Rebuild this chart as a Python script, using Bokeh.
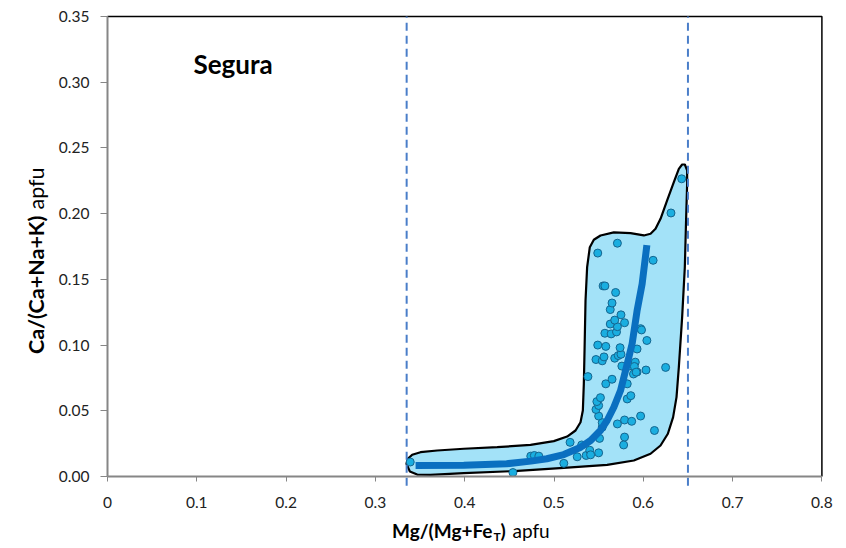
import math
from bokeh.plotting import figure
from bokeh.models import Label, FixedTicker, PrintfTickFormatter, Range1d
from bokeh.embed import file_html
from bokeh.resources import INLINE

# ---------------- data ----------------
pt_x = [0.339, 0.454, 0.474, 0.478, 0.483, 0.511, 0.518, 0.526, 0.531, 0.536,
        0.540, 0.541, 0.550, 0.551, 0.554, 0.554, 0.550, 0.547, 0.550, 0.548,
        0.552, 0.538, 0.558, 0.565, 0.571, 0.579, 0.587, 0.597, 0.579, 0.578,
        0.6125, 0.582, 0.586, 0.582, 0.589, 0.593, 0.591, 0.593, 0.603, 0.625,
        0.576, 0.584, 0.547, 0.554, 0.556, 0.568, 0.572, 0.575, 0.549, 0.558,
        0.574, 0.557, 0.564, 0.570, 0.571, 0.563, 0.568, 0.575, 0.579, 0.597,
        0.598, 0.604, 0.563, 0.565, 0.569, 0.555, 0.557, 0.549, 0.571, 0.611,
        0.631, 0.643, 0.590, 0.592]
pt_y = [0.011, 0.003, 0.0155, 0.016, 0.0155, 0.010, 0.026, 0.015, 0.024, 0.016,
        0.020, 0.0165, 0.018, 0.029, 0.0375, 0.041, 0.046, 0.051, 0.054, 0.057,
        0.060, 0.076, 0.0705, 0.074, 0.040, 0.043, 0.042, 0.046, 0.030, 0.024,
        0.035, 0.059, 0.0615, 0.0705, 0.078, 0.0795, 0.087, 0.097, 0.081, 0.083,
        0.084, 0.084, 0.089, 0.088, 0.091, 0.090, 0.092, 0.093, 0.100, 0.099,
        0.098, 0.109, 0.1085, 0.110, 0.114, 0.116, 0.119, 0.123, 0.117, 0.1125,
        0.1115, 0.1035, 0.127, 0.132, 0.140, 0.145, 0.145, 0.170, 0.1775, 0.1645,
        0.2005, 0.2265, 0.0837, 0.0794]

trend_x = [0.345, 0.399, 0.447, 0.474, 0.492, 0.511, 0.530, 0.541, 0.552, 0.5595,
           0.567, 0.5745, 0.582, 0.5875, 0.593, 0.5987, 0.604]
trend_y = [0.0084, 0.0086, 0.0097, 0.0117, 0.0135, 0.0167, 0.0223, 0.0274, 0.035, 0.0426,
           0.0527, 0.0654, 0.0857, 0.101, 0.126, 0.1466, 0.176]

env_x = [0.3348, 0.3363, 0.3412, 0.3505, 0.3692, 0.3990, 0.4364, 0.4737, 0.4998, 0.5147,
         0.5241, 0.5297, 0.5323, 0.5334, 0.5342, 0.5353, 0.5371, 0.5401, 0.5446, 0.5521,
         0.5670, 0.5857, 0.6006, 0.6081, 0.6137, 0.6193, 0.6267, 0.6342, 0.6398, 0.6435,
         0.6465, 0.6491, 0.6491, 0.6480, 0.6465, 0.6435, 0.6398, 0.6372, 0.6334, 0.6275,
         0.6193, 0.6081, 0.5894, 0.5595, 0.5110, 0.4550, 0.3990, 0.3617, 0.3468, 0.3386]
env_y = [0.0096, 0.0134, 0.0165, 0.0185, 0.0198, 0.0211, 0.0223, 0.0241, 0.0269, 0.0304,
         0.0350, 0.0413, 0.0502, 0.0705, 0.0959, 0.1339, 0.1593, 0.1745, 0.1801, 0.1834,
         0.1857, 0.1852, 0.1834, 0.1847, 0.1885, 0.1961, 0.2100, 0.2240, 0.2341, 0.2374,
         0.2374, 0.2329, 0.2227, 0.1974, 0.1593, 0.1213, 0.0832, 0.0604, 0.0452, 0.0325,
         0.0236, 0.0173, 0.0122, 0.0089, 0.0066, 0.0041, 0.0025, 0.0013, 0.0015, 0.0038]

boundary_x = [0.335, 0.65]
x_ticks = [0, 0.1, 0.2, 0.3, 0.4, 0.5, 0.6, 0.7, 0.8]
x_tick_labels = ["0", "0.1", "0.2", "0.3", "0.4", "0.5", "0.6", "0.7", "0.8"]
y_ticks = [0.0, 0.05, 0.10, 0.15, 0.20, 0.25, 0.30, 0.35]
X_MAX = 0.8
Y_MAX = 0.35

FONT = "Lato"
W, H = 846, 548
# frame covers the whole canvas; axes are fixed at 0 inside it
PX_PER_X = 893.0   # pixels per x unit
PX_PER_Y = 1314.3  # pixels per y unit
X0_PX, Y0_PX = 107.0, 476.0

p = figure(width=W, height=H, output_backend="svg", toolbar_location=None,
           x_range=Range1d(-X0_PX / PX_PER_X, (W - X0_PX) / PX_PER_X),
           y_range=Range1d(-(H - Y0_PX) / PX_PER_Y, Y0_PX / PX_PER_Y),
           min_border=0)
p.grid.visible = False
p.background_fill_color = "white"
p.border_fill_color = "white"
p.outline_line_color = None

for ax in (p.xaxis[0], p.yaxis[0]):
    ax.fixed_location = 0
    ax.axis_line_color = "#868686"
    ax.axis_line_width = 2
    ax.major_tick_line_color = "#868686"
    ax.major_tick_line_width = 1
    ax.minor_tick_line_color = None
    ax.major_tick_in = 0
    ax.major_label_text_font = FONT
    ax.major_label_text_font_size = "15.5px"
    ax.major_label_text_color = "#222222"

p.xaxis.bounds = (0, X_MAX)
p.xaxis.ticker = FixedTicker(ticks=x_ticks)
p.xaxis.major_label_overrides = {t: l for t, l in zip(x_ticks, x_tick_labels)}
p.xaxis.major_tick_out = 5
p.xaxis.major_label_standoff = 15
p.yaxis.bounds = (0, Y_MAX)
p.yaxis.ticker = FixedTicker(ticks=y_ticks)
p.yaxis.formatter = PrintfTickFormatter(format="%.2f")
p.yaxis.major_tick_out = 7
p.yaxis.major_label_standoff = 11

# plot-area box (top and right edges)
p.line([0, X_MAX, X_MAX], [Y_MAX, Y_MAX, 0], line_color="black", line_width=1.5)

# envelope
p.patch(env_x, env_y, fill_color="#a3e2f8", line_color="black", line_width=2.2, line_join="round")

# points
p.scatter(pt_x, pt_y, size=8, fill_color="#1aaee0", line_color="#15658f", line_width=1)

# trend line
p.line(trend_x, trend_y, line_color="#0a6fc0", line_width=7, line_cap="butt", line_join="round")

# dashed boundaries
p.segment(x0=boundary_x, y0=[-0.007] * len(boundary_x), x1=boundary_x, y1=[Y_MAX] * len(boundary_x),
          line_color="#4a7ec9", line_width=2, line_dash="8 5")

def lab(x, y, text, size="19px", style="normal", align="left", angle=0.0):
    p.add_layout(Label(x=x, y=y, x_units="screen", y_units="screen", text=text,
                       text_font=FONT, text_font_style=style, text_font_size=size,
                       text_align=align, text_baseline="middle", angle=angle,
                       text_color="black"))

# title text
lab(193, H - 63, "Segura", size="26px", style="bold")

# x axis label (composed)
XL_Y = H - 530
lab(492, XL_Y, "Mg/(Mg+Fe", style="bold", align="right")
lab(493, H - 536, "T", size="12px", style="bold")
lab(500, XL_Y, ")", style="bold")
lab(512, XL_Y, "apfu")

# y axis label (composed, rotated)
lab(35, H - 215, "Ca/(Ca+Na+K)", size="21.5px", style="bold", align="right", angle=math.pi / 2)
lab(35, H - 209, "apfu", size="21.5px", angle=math.pi / 2)

open("out.html", "w").write(file_html(p, INLINE))
